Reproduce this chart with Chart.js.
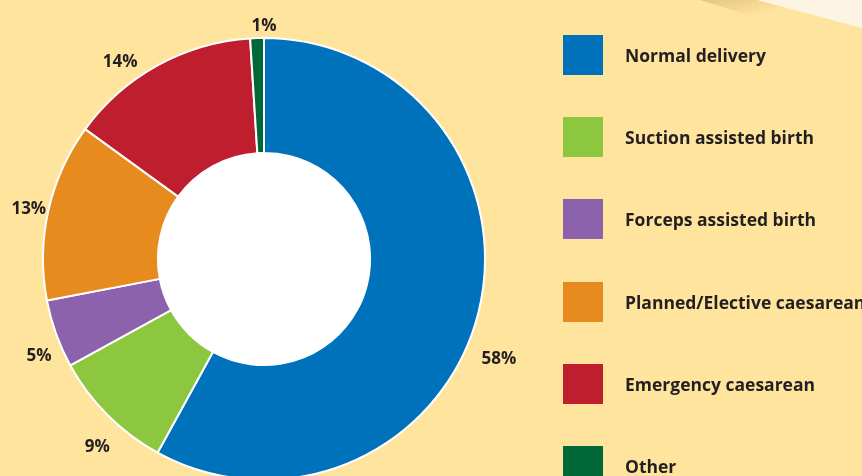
<!DOCTYPE html>
<html>
<head>
<meta charset="utf-8">
<script src="https://cdn.jsdelivr.net/npm/chart.js@4"></script>
<style>
  html, body { margin: 0; padding: 0; width: 862px; height: 476px; overflow: hidden; background: #ffe49e; }
  #wrap { position: absolute; left: 0; top: 0; width: 862px; height: 520px; }
  #shadow { position: absolute; left: 0; top: 0; width: 862px; height: 60px;
            clip-path: polygon(700px 0, 862px 0, 862px 50px);
            background: linear-gradient(165deg, rgba(255,228,158,0) 55%, rgba(190,160,90,0.55) 62%, rgba(255,228,158,0) 75%); }
  #corner { position: absolute; left: 0; top: 0; width: 862px; height: 40px;
            clip-path: polygon(757px 0, 862px 0, 862px 28px);
            background: #fdf4e4; }
  #legend { position: absolute; left: 563px; top: 0; font-family: "Open Sans", "Noto Sans", sans-serif;
            font-weight: bold; font-size: 17.5px; color: #231f20; white-space: nowrap; }
  .row { position: absolute; left: 0; height: 40px; display: flex; align-items: center; }
  .sw { width: 40px; height: 40px; margin-right: 22px; flex: none; }
</style>
</head>
<body>
<div id="wrap"><canvas id="myChart"></canvas></div>
<div id="shadow"></div>
<div id="corner"></div>
<div id="legend"></div>
<script>
// Datos del grafico
const labels = ["Normal delivery", "Suction assisted birth", "Forceps assisted birth",
                "Planned/Elective caesarean", "Emergency caesarean", "Other"];
const values = [58, 9, 5, 13, 14, 1];
const colors = ["#0072bc", "#8dc63f", "#8b62ab", "#e88b1e", "#be1e2d", "#006838"];

// Ajustes de posicion de las etiquetas (grados, radio extra)
const labelAngleNudge = [8, -3, -3, 0, -7, 1.8];
const labelRadiusExtra = [33, 28, 23, 20, 25, 15];

// Leyenda en HTML
const legend = document.getElementById("legend");
labels.forEach((name, i) => {
    const row = document.createElement("div");
    row.className = "row";
    row.style.top = (35 + i * 82.2) + "px";
    row.innerHTML = '<div class="sw" style="background:' + colors[i] + '"></div><span>' + name + '</span>';
    legend.appendChild(row);
});

// Rellena el hueco central de blanco
const whiteHole = {
    id: "whiteHole",
    beforeDatasetsDraw(chart) {
        const arc = chart.getDatasetMeta(0).data[0];
        const ctx = chart.ctx;
        ctx.save();
        ctx.fillStyle = "#ffffff";
        ctx.beginPath();
        ctx.arc(arc.x, arc.y, arc.innerRadius + 1, 0, Math.PI * 2);
        ctx.fill();
        ctx.restore();
    }
};

// Dibuja los porcentajes fuera del anillo
const outsideLabels = {
    id: "outsideLabels",
    afterDatasetsDraw(chart) {
        const ctx = chart.ctx;
        const meta = chart.getDatasetMeta(0);
        ctx.save();
        ctx.font = "bold 17px 'Open Sans', 'Noto Sans', sans-serif";
        ctx.fillStyle = "#231f20";
        ctx.textAlign = "center";
        ctx.textBaseline = "middle";
        meta.data.forEach((arc, i) => {
            const mid = (arc.startAngle + arc.endAngle) / 2 + labelAngleNudge[i] * Math.PI / 180;
            const r = arc.outerRadius + labelRadiusExtra[i];
            const x = arc.x + Math.cos(mid) * r;
            const y = arc.y + Math.sin(mid) * r + 3;
            ctx.fillText(values[i] + "%", x, y);
        });
        ctx.restore();
    }
};

let ctx = document.getElementById('myChart');
let myChart = new Chart(ctx, {
    type: 'doughnut',
    data: {
        labels: labels,
        datasets: [{
            data: values,
            backgroundColor: colors,
            borderColor: "#ffffff",
            borderWidth: 2
        }]
    },
    options: {
        responsive: true,
        maintainAspectRatio: false,
        animation: false,
        cutout: "48%",
        layout: { padding: { left: 42, top: 37, right: 376, bottom: 39 } },
        plugins: {
            legend: { display: false },
            tooltip: { enabled: false }
        }
    },
    plugins: [whiteHole, outsideLabels]
});
</script>
</body>
</html>
